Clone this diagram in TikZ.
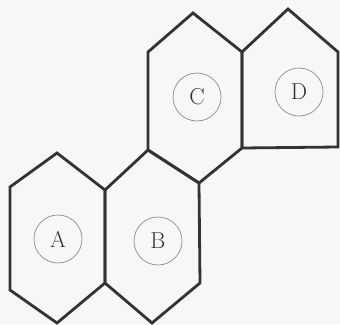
\documentclass[tikz,border=0pt]{standalone}
\usepackage{tikz}
\definecolor{CellInk}{HTML}{333333}
\definecolor{CellRing}{HTML}{8C8C8C}
\definecolor{CellPaper}{HTML}{F7F7F5}
\tikzset{
  cellwall/.style={line width=2.8pt,draw=CellInk,line join=miter},
  cellmark/.style={circle,draw=CellRing,line width=0.7pt,minimum size=48pt,
    inner sep=0pt,text=CellInk,font=\fontsize{23}{23}\selectfont}
}
\begin{document}
\begin{tikzpicture}[x=1pt,y=-1pt]
  \fill[CellPaper] (0,0) rectangle (340,324);
  \useasboundingbox (0,0) rectangle (340,324);
  % cells
  \draw[cellwall] (57,153)--(105,190)--(105,283)--(57,323)--(10,290)--(10,187)--cycle;
  \draw[cellwall] (148,150)--(199,183)--(200,283)--(152,323)--(105,283)--(105,190)--cycle;
  \draw[cellwall] (193,13)--(242,52)--(242,148)--(199,183)--(148,150)--(148,52)--cycle;
  \draw[cellwall] (288,9)--(338,52)--(338,147)--(242,148)--(242,52)--cycle;
  % labels
  \node[cellmark] (a) at (58,239) {A};
  \node[cellmark] (b) at (158,241) {B};
  \node[cellmark] (c) at (197,97) {C};
  \node[cellmark] (d) at (299,92) {D};
\end{tikzpicture}
\end{document}
